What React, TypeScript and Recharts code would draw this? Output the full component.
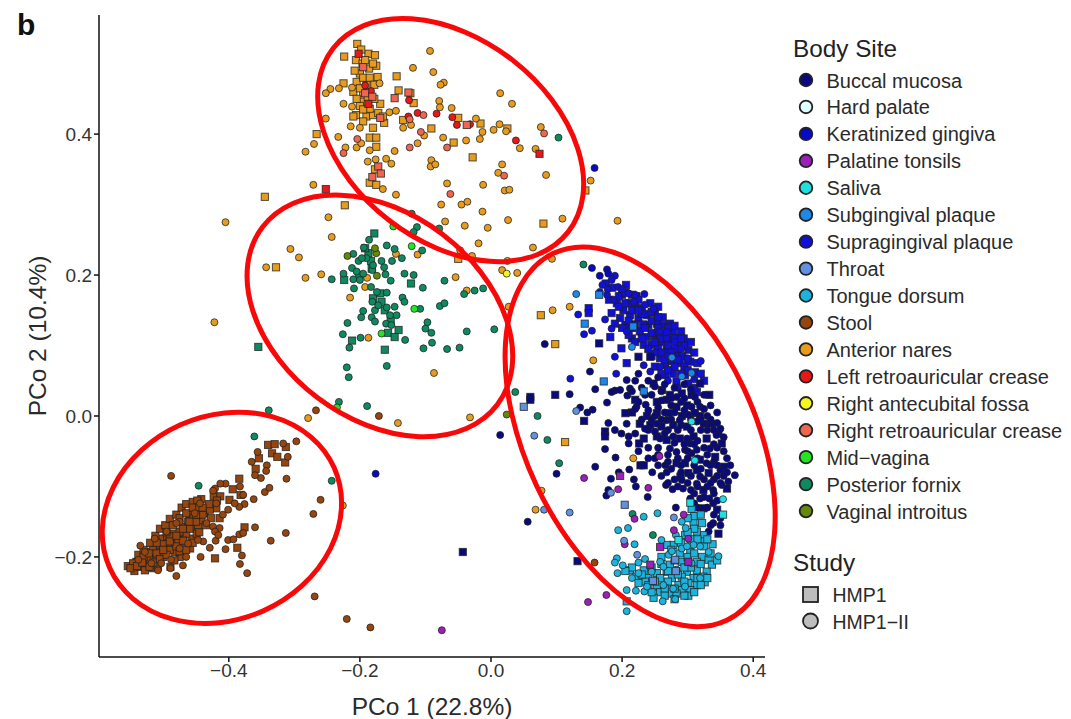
import React from 'react';
import { ScatterChart, Scatter, XAxis, YAxis, ReferenceArea } from 'recharts';

type Pt = [number, number];

const xTicks = [-0.4, -0.2, 0, 0.2, 0.4];
const yTicks = [-0.2, 0, 0.2, 0.4];

const bodySites = [
  'Buccal mucosa', 'Hard palate', 'Keratinized gingiva', 'Palatine tonsils', 'Saliva', 'Subgingival plaque',
  'Supragingival plaque', 'Throat', 'Tongue dorsum', 'Stool', 'Anterior nares', 'Left retroauricular crease',
  'Right antecubital fossa', 'Right retroauricular crease', 'Mid\u2212vagina', 'Posterior fornix', 'Vaginal introitus',
];
const siteColors = [
  '#0a0a80', '#e0ffff', '#0808c8', '#9a20b8', '#1fe0e0', '#1e88e8',
  '#1010d8', '#6490e0', '#1cb4dc', '#96450f', '#e89c1e', '#e81818',
  '#f5f520', '#ee6650', '#22e622', '#0f8a60', '#668a08',
];
const studies = ['HMP1', 'HMP1\u2212II'];

// [x1, x2, y1, y2, rotation] of the hand drawn rings, before rotating
const rings: [number, number, number, number, number][] = [
  [-0.289, 0.166, 0.535, 0.248, 38],
  [-0.394, 0.055, 0.288, -0.004, 37],
  [-0.598, -0.223, 0.0, -0.289, -24],
  [-0.082, 0.537, 0.133, -0.192, 64.7],
];

const naresSquares: Pt[] = [[-.204,.528],[-.224,.510],[-.187,.514],[-.177,.512],[-.206,.505],[-.175,.497],[-.186,.493],[-.200,.486],[-.173,.481],[-.144,.482],[-.225,.472],[-.205,.474],[-.141,.462],[-.123,.458],[-.195,.458],[-.197,.446],[-.169,.443],[-.118,.444],[-.206,.427],[-.190,.425],[-.180,.427],[-.163,.416],[-.134,.420],[-.180,.409],[-.266,.400],[-.185,.395],[-.175,.395],[-.091,.408],[-.050,.423],[-.016,.415],[.025,.408],[-.057,.388],[-.175,.382],[-.028,.367],[-.177,.350],[-.185,.331],[-.175,.328],[-.223,.299],[.080,.273],[.144,.320],[-.050,.223],[-.345,.311],[-.328,.211],[.076,.143],[.098,.102],[.113,-.037],[-.196,.500],[-.190,.470],[-.200,.440],[-.185,.436],[-.198,.520],[-.192,.505],[-.180,.500],[-.208,.490],[-.195,.480],[-.185,.480],[-.210,.460],[-.200,.465],[-.178,.470],[-.188,.452],[-.205,.450],[-.178,.450],[-.195,.435],[-.210,.425],[-.172,.430],[-.195,.418],[-.165,.425]];
const naresCircles: Pt[] = [[-.093,.518],[-.119,.494],[-.088,.488],[-.072,.473],[-.077,.470],[.014,.458],[.032,.443],[-.245,.464],[-.252,.458],[-.232,.465],[-.212,.466],[-.170,.472],[-.225,.443],[-.212,.439],[-.252,.422],[-.155,.431],[-.145,.433],[-.079,.447],[-.078,.438],[-.060,.437],[-.023,.422],[-.214,.411],[-.200,.409],[-.134,.409],[-.122,.413],[-.013,.403],[.004,.406],[.013,.414],[.023,.404],[.076,.410],[-.233,.396],[-.270,.386],[-.283,.375],[-.222,.381],[-.205,.381],[-.198,.387],[-.185,.377],[-.147,.376],[-.112,.387],[-.102,.398],[-.073,.395],[-.038,.391],[-.017,.393],[.044,.380],[.068,.379],[-.160,.365],[-.176,.364],[-.188,.361],[-.152,.358],[-.091,.363],[-.092,.354],[-.085,.357],[.017,.357],[.011,.345],[.084,.342],[.152,.334],[-.067,.330],[-.012,.328],[.021,.320],[.028,.321],[-.271,.328],[-.165,.322],[-.145,.314],[-.076,.300],[-.045,.300],[-.036,.304],[-.013,.290],[-.070,.276],[-.040,.270],[-.005,.267],[.026,.278],[.109,.280],[-.248,.282],[-.243,.254],[-.019,.245],[-.112,.229],[-.047,.235],[-.029,.227],[.064,.239],[.025,.220],[.093,.223],[.193,.277],[-.405,.275],[-.306,.237],[-.293,.225],[-.343,.211],[-.283,.196],[-.259,.201],[-.422,.133],[-.215,.168],[-.189,.196],[-.192,.183],[-.145,.230],[-.054,.197],[-.037,.178],[.017,.207],[.027,.155],[-.187,.111],[-.087,.061],[-.142,-.010],[-.032,-.002],[-.279,-.003],[-.226,-.127],[.040,.203],[.094,.150],[.120,.155],[.156,.079],[.217,-.060],[.068,-.133],[.077,-.106]];
const leftRetroSquares: Pt[] = [[-.202,.514],[.074,.372],[-.252,.322],[-.187,.443]];
const leftRetroCircles: Pt[] = [[-.183,.461],[-.125,.448],[-.112,.430],[-.083,.429],[-.059,.424],[-.052,.413],[-.032,.414],[.038,.391],[-.126,.425],[-.192,.469]];
const rightRetroSquares: Pt[] = [[-.195,.495],[-.192,.458],[-.181,.453],[-.147,.451],[-.169,.423],[-.126,.459],[-.172,.354],[-.181,.339],[-.168,.344],[-.037,.413]];
const rightRetroCircles: Pt[] = [[-.103,.427],[-.124,.421],[-.107,.403],[-.204,.393],[-.225,.373],[-.124,.381],[-.067,.381],[.081,.401],[-.062,.315],[.020,.341]];
const antecubitalCircles: Pt[] = [[.024,.202]];

const stoolSquares: Pt[] = [[-.554,-.213],[-.544,-.220],[-.541,-.207],[-.533,-.200],[-.526,-.209],[-.523,-.193],[-.516,-.216],[-.513,-.203],[-.506,-.184],[-.506,-.193],[-.498,-.174],[-.496,-.188],[-.489,-.214],[-.484,-.167],[-.484,-.181],[-.475,-.200],[-.470,-.157],[-.470,-.169],[-.470,-.185],[-.460,-.140],[-.457,-.159],[-.457,-.174],[-.459,-.188],[-.449,-.132],[-.447,-.155],[-.442,-.118],[-.437,-.138],[-.427,-.145],[-.419,-.131],[-.414,-.145],[-.423,-.114],[-.413,-.114],[-.394,-.104],[-.399,-.119],[-.384,-.089],[-.382,-.112],[-.376,-.158],[-.387,-.187],[-.421,-.202],[-.359,-.075],[-.354,-.060],[-.340,-.041],[-.330,-.040],[-.313,-.044],[-.334,-.053],[-.326,-.058],[-.314,-.066],[-.536,-.214],[-.521,-.202],[-.500,-.200],[-.493,-.181],[-.477,-.176],[-.516,-.186],[-.465,-.167],[-.449,-.167],[-.442,-.148],[-.429,-.133],[-.482,-.193],[-.528,-.219],[-.546,-.209],[-.508,-.214],[-.490,-.171],[-.462,-.150],[-.475,-.164],[-.454,-.145],[-.505,-.174],[-.521,-.214],[-.550,-.216],[-.538,-.197],[-.530,-.190],[-.520,-.180],[-.512,-.170],[-.505,-.160],[-.497,-.155],[-.490,-.146],[-.480,-.140],[-.472,-.130],[-.465,-.125],[-.455,-.122],[-.448,-.120],[-.530,-.200],[-.510,-.195],[-.500,-.182],[-.490,-.190],[-.480,-.185],[-.470,-.177],[-.460,-.160],[-.450,-.150],[-.440,-.140],[-.430,-.125],[-.418,-.120],[-.540,-.213],[-.515,-.208],[-.505,-.203],[-.495,-.197],[-.483,-.205],[-.475,-.192],[-.465,-.190],[-.455,-.180],[-.445,-.165],[-.435,-.155],[-.495,-.165],[-.485,-.155],[-.475,-.145],[-.465,-.138],[-.455,-.130],[-.445,-.130],[-.510,-.180],[-.522,-.195],[-.532,-.208],[-.500,-.190],[-.490,-.178],[-.480,-.170],[-.470,-.160],[-.460,-.150],[-.450,-.140],[-.440,-.130]];
const stoolCircles: Pt[] = [[-.535,-.184],[-.488,-.085],[-.480,-.227],[-.470,-.212],[-.489,-.216],[-.508,-.219],[-.465,-.200],[-.475,-.150],[-.480,-.152],[-.495,-.164],[-.513,-.174],[-.443,-.200],[-.439,-.178],[-.429,-.187],[-.420,-.177],[-.405,-.189],[-.401,-.176],[-.393,-.175],[-.384,-.168],[-.378,-.166],[-.360,-.158],[-.380,-.198],[-.383,-.210],[-.372,-.223],[-.336,-.177],[-.313,-.166],[-.271,-.139],[-.260,-.119],[-.312,-.089],[-.345,-.108],[-.338,-.102],[-.362,-.118],[-.376,-.125],[-.384,-.129],[-.391,-.124],[-.401,-.133],[-.409,-.140],[-.424,-.157],[-.414,-.159],[-.421,-.164],[-.416,-.169],[-.405,-.096],[-.413,-.096],[-.421,-.103],[-.424,-.106],[-.383,-.100],[-.378,-.112],[-.351,-.088],[-.360,-.084],[-.342,-.070],[-.343,-.078],[-.365,-.065],[-.356,-.051],[-.310,-.058],[-.317,-.039],[-.297,-.036],[-.269,-.256],[-.220,-.288],[-.184,-.300],[-.267,.008],[-.171,.000],[.158,-.208],[-.538,-.204],[-.528,-.193],[-.518,-.209],[-.503,-.209],[-.488,-.204],[-.475,-.188],[-.462,-.181],[-.447,-.176],[-.434,-.152],[-.419,-.124],[-.444,-.124],[-.452,-.138]];

const fornixSquares: Pt[] = [[-.178,.259],[-.187,.231],[-.183,.220],[-.224,.193],[-.201,.200],[-.167,.162],[-.180,.167],[-.169,.174],[-.162,.150],[-.153,.135],[-.157,.118],[-.141,.122],[-.147,.112],[-.212,.107],[-.162,.094],[-.355,.098],[-.122,.188],[-.192,.238],[-.182,.209]];
const fornixCircles: Pt[] = [[-.186,.250],[-.194,.239],[-.210,.230],[-.202,.220],[-.159,.242],[-.147,.237],[-.136,.224],[-.151,.220],[-.167,.220],[-.163,.211],[-.161,.201],[-.153,.192],[-.105,.235],[-.132,.202],[-.118,.200],[-.104,.182],[-.071,.192],[-.025,.178],[-.012,.181],[-.041,.173],[-.212,.210],[-.225,.202],[-.210,.194],[-.243,.194],[-.209,.181],[-.195,.202],[-.181,.207],[-.183,.183],[-.159,.175],[-.135,.168],[-.132,.162],[-.147,.155],[-.108,.152],[-.078,.156],[-.071,.160],[-.144,.143],[-.195,.149],[-.198,.140],[-.182,.140],[-.177,.134],[-.177,.150],[-.159,.154],[-.219,.132],[-.226,.116],[-.199,.111],[-.216,.097],[-.097,.133],[-.100,.124],[-.091,.118],[-.090,.104],[-.131,.108],[-.103,.096],[-.067,.095],[-.048,.097],[-.037,.120],[.005,.123],[-.220,.069],[-.217,.055],[-.159,.071],[-.232,.020],[-.189,.014],[-.339,.008],[-.121,.287],[-.113,.268],[-.118,.261],[-.079,.266],[.103,.395],[.141,.215],[.037,.034],[.071,.000],[.086,-.034],[.104,-.067],[.216,-.139],[.247,-.169],[-.361,-.029],[-.446,-.099],[-.243,-.092],[-.174,.176],[-.181,.162],[-.172,.157],[-.154,.143],[-.160,.131],[-.152,.129],[-.190,.224],[-.197,.224],[-.180,.214],[-.205,.205],[-.200,.193]];
const introitusCircles: Pt[] = [[-.219,.227],[-.175,.231],[-.174,.199],[-.177,.238],[.024,.002]];
const midVaginaCircles: Pt[] = [[-.121,.241],[-.117,.152],[-.167,.117],[-.149,.269],[-.235,.012]];

const supraSquares: Pt[] = [[.206,.186],[.192,.160],[.210,.160],[.220,.155],[.230,.153],[.243,.160],[.184,.146],[.197,.139],[.212,.143],[.225,.139],[.238,.143],[.250,.146],[.189,.131],[.205,.129],[.227,.120],[.240,.129],[.253,.131],[.263,.129],[.273,.131],[.215,.110],[.238,.112],[.250,.115],[.263,.117],[.278,.120],[.233,.101],[.245,.101],[.261,.105],[.273,.108],[.294,.110],[.286,.101],[.268,.094],[.255,.096],[.301,.094],[.284,.089],[.304,.077],[.288,.075],[.266,.072],[.258,.082],[.278,.060],[.266,.058],[.296,.058],[.314,.034],[.301,.046],[.283,.049],[.199,.096],[.207,.075],[.149,.153],[.149,.146],[.182,.112],[.200,.172],[.215,.150],[.232,.130],[.245,.118],[.258,.110],[.280,.095],[.292,.085],[.276,.078],[.295,.070],[.311,.062],[.202,.150],[.222,.170],[.175,.188],[.185,.182],[.195,.170],[.205,.175],[.215,.172],[.180,.165],[.195,.155],[.205,.160],[.225,.165],[.235,.145],[.245,.148],[.255,.155],[.262,.140],[.270,.125],[.280,.128],[.290,.120],[.295,.100],[.305,.105],[.310,.090],[.315,.075],[.320,.060],[.325,.050],[.310,.040],[.300,.065],[.290,.060],[.280,.070],[.270,.065],[.260,.060],[.250,.070],[.245,.085],[.260,.090],[.270,.100],[.280,.110],[.255,.125],[.245,.135],[.230,.145],[.220,.130],[.210,.135],[.200,.125],[.210,.115],[.220,.105],[.230,.110],[.240,.095],[.250,.105],[.290,.110],[.300,.080],[.285,.080],[.275,.090],[.265,.080],[.215,.125],[.225,.150],[.255,.140],[.268,.118],[.235,.125]];
const supraCircles: Pt[] = [[.189,.199],[.184,.193],[.194,.183],[.177,.172],[.166,.176],[.187,.165],[.234,.173],[.220,.172],[.210,.174],[.174,.137],[.184,.124],[.154,.121],[.142,.116],[.133,.144],[.207,.120],[.189,.084],[.233,.072],[.320,.078],[.121,.053],[.191,.060],[.243,.063],[.170,.186],[.178,.180],[.200,.180],[.218,.162],[.235,.158],[.248,.152],[.258,.120],[.268,.110],[.280,.105],[.250,.090],[.270,.085],[.290,.095],[.300,.082],[.310,.052],[.285,.040],[.270,.050],[.258,.070]];
const keratinizedCircles: Pt[] = [[.154,.210],[.166,.199],[.177,.208],[.179,.202],[-.176,-.082],[.158,.352]];
const buccalSquares: Pt[] = [[.225,.084],[.243,.084],[.165,.103],[.098,.030],[.060,.027],[.060,.023],[.142,-.007],[.248,.046],[.261,.037],[.273,.030],[.291,.032],[.306,.030],[.319,.046],[.333,.030],[.220,.023],[.205,.004],[.215,.005],[.253,.020],[.268,.023],[.283,.013],[.299,.015],[.311,.004],[.238,.000],[.253,.004],[.271,.004],[.291,.000],[.319,.000],[.227,-.011],[.243,-.013],[.260,-.015],[.278,-.013],[.299,-.015],[.332,-.011],[.174,-.022],[.174,-.029],[.233,-.032],[.253,-.029],[.268,-.034],[.288,-.032],[.309,-.029],[.329,-.032],[.347,-.025],[.352,-.039],[.226,-.039],[.228,-.070],[.233,-.070],[.283,-.067],[.296,-.067],[.314,-.077],[.332,-.081],[.355,-.072],[.342,-.058],[.360,-.103],[.301,-.081],[.319,-.062],[.289,-.086],[.324,-.105],[.345,-.133],[.324,-.131],[.347,-.167],[.132,-.206],[-.043,-.193]];
const buccalCircles: Pt[] = [[.174,-.047],[.190,-.059],[.159,-.072],[.100,-.082],[.183,-.089],[.195,-.080],[.211,-.076],[.218,-.090],[.221,-.100],[.246,-.080],[.268,-.080],[.266,-.070],[.240,-.060],[.267,-.098],[.277,-.104],[.293,-.103],[.291,-.091],[.314,-.096],[.339,-.105],[.352,-.098],[.362,-.093],[.372,-.084],[.304,-.117],[.319,-.117],[.333,-.117],[.310,-.124],[.339,-.124],[.239,-.115],[.282,-.130],[.176,-.113],[.179,-.105],[.056,-.150],[.350,-.155],[.339,-.152],[.332,-.164],[.319,-.086],[.350,-.077],[.329,-.067],[.306,-.053],[.273,-.046],[.283,-.051],[.296,-.048],[.314,-.048],[.334,-.046],[.258,-.032],[.278,-.029],[.299,-.032],[.344,-.027],[.151,.063],[.159,.038],[.177,.019],[.120,.031],[.136,.012],[.155,.009],[.147,.005],[.179,-.010],[.189,-.020],[.199,-.025],[.207,.051],[.220,.050],[.212,.039],[.189,.036],[.184,.034],[.197,.037],[.208,.029],[.236,.016],[.222,.013],[.210,-.029],[.210,-.039],[.082,.102],[.207,-.011],[.268,-.006],[.339,-.011],[.304,-.039],[.324,-.011],[.253,-.011],[.288,-.006],[.314,-.008],[.283,.027],[.250,.042],[.306,.013],[.319,.013],[.311,.027],[.014,-.027],[.220,.010],[.235,.030],[.250,.000],[.260,.022],[.275,.015],[.290,.020],[.300,.002],[.315,.020],[.330,.000],[.345,-.010],[.240,-.020],[.255,-.045],[.270,-.020],[.285,-.020],[.300,-.050],[.315,-.035],[.330,-.020],[.345,-.045],[.360,-.060],[.250,-.060],[.270,-.065],[.290,-.070],[.310,-.070],[.325,-.090],[.340,-.065],[.355,-.085],[.300,-.095],[.280,-.090],[.260,-.085],[.310,-.110],[.330,-.100],[.340,-.090],[.225,.060],[.240,.050],[.255,.055],[.265,.045],[.280,.040],[.295,.045],[.310,.005],[.325,.030],[.335,.015],[.345,.005],[.230,.040],[.245,.030],[.260,.035],[.275,.025],[.295,.025],[.305,.038],[.325,.010],[.215,.035],[.225,.020],[.240,.008],[.255,.012],[.265,.005],[.280,.005],[.295,.008],[.305,-.005],[.320,-.005],[.335,-.005],[.350,-.018],[.230,-.005],[.245,-.005],[.260,-.005],[.275,-.005],[.290,-.013],[.305,-.020],[.320,-.020],[.340,-.020],[.355,-.030],[.220,-.025],[.235,-.018],[.250,-.022],[.265,-.025],[.280,-.038],[.295,-.040],[.310,-.040],[.325,-.045],[.340,-.040],[.355,-.050],[.365,-.070],[.225,-.050],[.240,-.045],[.255,-.055],[.270,-.055],[.285,-.060],[.300,-.060],[.315,-.060],[.330,-.055],[.345,-.070],[.360,-.080],[.255,-.070],[.275,-.075],[.290,-.080],[.305,-.085],[.320,-.075],[.335,-.070],[.345,-.085],[.350,-.095],[.335,-.095],[.315,-.100],[.325,-.115],[.340,-.110],[.345,-.120],[.330,-.130],[.340,-.140],[.350,-.145],[.335,-.155],[.315,-.130],[.305,-.105],[.285,-.100],[.270,-.095]];
const tonsilSquares: Pt[] = [[.197,-.085],[.258,-.186],[.243,-.211],[.301,-.207]];
const tonsilCircles: Pt[] = [[.142,-.088],[.194,-.104],[.240,-.102],[.257,-.057],[.219,-.146],[.204,-.182],[.176,-.254],[.148,-.264],[.294,-.140],[.279,-.162],[.301,-.174],[-.075,-.304]];
const throatSquares: Pt[] = [[.204,-.126],[.050,.013],[.281,-.204],[.282,-.220],[.247,-.234]];
const throatCircles: Pt[] = [[.066,-.028],[.081,-.133],[.120,-.137],[.183,-.109],[.279,-.144],[.223,-.197],[.203,-.177],[.130,.007]];
const subgingSquares: Pt[] = [[.165,.172],[.143,.131],[.172,.049],[.233,.035],[.217,.127]];
const subgingCircles: Pt[] = [[.130,.173],[.306,.061],[.276,.083],[.291,.056],[.215,.098]];
const salivaSquares: Pt[] = [[.304,-.123],[.354,-.140],[.286,-.176]];
const salivaCircles: Pt[] = [[.311,-.063],[.354,-.118],[.306,-.008]];
const tongueSquares: Pt[] = [[.306,-.132],[.309,-.152],[.322,-.152],[.324,-.169],[.314,-.164],[.296,-.169],[.338,-.182],[.324,-.178],[.278,-.183],[.268,-.183],[.288,-.195],[.304,-.193],[.322,-.200],[.332,-.204],[.314,-.207],[.291,-.207],[.273,-.211],[.337,-.211],[.212,-.219],[.233,-.219],[.253,-.223],[.268,-.221],[.299,-.221],[.314,-.219],[.329,-.221],[.222,-.228],[.240,-.230],[.258,-.230],[.276,-.230],[.291,-.228],[.309,-.230],[.324,-.228],[.235,-.235],[.253,-.242],[.268,-.240],[.286,-.240],[.301,-.237],[.314,-.240],[.326,-.236],[.258,-.250],[.273,-.252],[.291,-.247],[.304,-.247],[.248,-.258],[.301,-.255],[.283,-.252],[.207,-.263],[.230,-.225],[.245,-.215],[.260,-.210],[.270,-.220],[.280,-.205],[.300,-.200],[.310,-.195],[.325,-.185],[.335,-.195],[.345,-.205],[.320,-.210],[.305,-.215],[.285,-.225],[.270,-.235],[.250,-.235],[.265,-.245],[.280,-.245],[.295,-.235],[.315,-.230],[.330,-.230],[.320,-.240],[.310,-.250],[.295,-.255],[.280,-.260],[.265,-.255],[.245,-.250],[.240,-.240],[.260,-.200],[.275,-.190],[.290,-.180],[.305,-.175],[.315,-.175],[.330,-.175],[.310,-.160],[.300,-.165],[.295,-.215],[.215,-.215],[.205,-.220],[.225,-.237],[.310,-.142],[.320,-.140],[.300,-.145]];
const tongueCircles: Pt[] = [[.233,-.143],[.254,-.138],[.291,-.150],[.194,-.162],[.209,-.159],[.219,-.182],[.260,-.176],[.192,-.202],[.189,-.208],[.201,-.212],[.193,-.223],[.207,-.247],[.207,-.277],[.262,-.263],[.281,-.260],[.347,-.199],[.235,-.203],[.225,-.208],[.221,-.248],[.234,-.249],[.297,-.159],[.282,-.169],[.271,-.197],[.258,-.207],[.291,-.188],[.245,-.221],[.263,-.214],[.283,-.218],[.306,-.209],[.319,-.185],[.332,-.193],[.309,-.183],[.238,-.242],[.225,-.223],[.215,-.230],[.263,-.240],[.278,-.245],[.296,-.242],[.319,-.230],[.299,-.185],[.276,-.192]];

// site index, squares (HMP1), circles (HMP1-II); later rows paint on top
const layers: [number, Pt[], Pt[]][] = [
  [10, naresSquares, naresCircles],
  [11, leftRetroSquares, leftRetroCircles],
  [13, rightRetroSquares, rightRetroCircles],
  [12, [], antecubitalCircles],
  [9, stoolSquares, stoolCircles],
  [15, fornixSquares, fornixCircles],
  [16, [], introitusCircles],
  [14, [], midVaginaCircles],
  [6, supraSquares, supraCircles],
  [2, [], keratinizedCircles],
  [0, buccalSquares, buccalCircles],
  [8, tongueSquares, tongueCircles],
  [3, tonsilSquares, tonsilCircles],
  [7, throatSquares, throatCircles],
  [5, subgingSquares, subgingCircles],
  [4, salivaSquares, salivaCircles],
];

const EDGE = 'rgba(30,30,30,0.75)';
const toRows = (pts: Pt[]) => pts.map(([x, y]) => ({ x, y }));
const minus = (v: number) => (v < 0 ? '\u2212' : '') + Math.abs(v).toFixed(1);

const squareDot = (fill: string) => (p: any) => (
  <rect x={p.cx - 3.6} y={p.cy - 3.6} width={7.2} height={7.2} fill={fill} stroke={EDGE} strokeWidth={1} />
);
const circleDot = (fill: string) => (p: any) => (
  <circle cx={p.cx} cy={p.cy} r={3.5} fill={fill} stroke={EDGE} strokeWidth={1} />
);
const ringShape = (angle: number) => (p: any) => {
  const cx = p.x + p.width / 2;
  const cy = p.y + p.height / 2;
  return (
    <ellipse cx={cx} cy={cy} rx={p.width / 2} ry={p.height / 2} fill="none" stroke="#f80808" strokeWidth={5}
      transform={`rotate(${angle} ${cx} ${cy})`} />
  );
};

const FONT = '"Liberation Sans", Arial, sans-serif';

const LegendBox: React.FC = () => (
  <svg width={300} height={719} style={{ position: 'absolute', left: 771, top: 0, fontFamily: FONT }}>
    <text x={22} y={57} fontSize={24.3} fill="#222">Body Site</text>
    {bodySites.map((s, i) => (
      <g key={s}>
        <circle cx={35} cy={80 + i * 26.94} r={6.3} fill={siteColors[i]} stroke="#222" strokeWidth={1.8} />
        <text x={55.5} y={87.5 + i * 26.94} fontSize={20} fill="#2a2a2a">{s}</text>
      </g>
    ))}
    <text x={22} y={571} fontSize={24.3} fill="#222">Study</text>
    <rect x={32} y={587} width={15} height={15} fill="#bdbdbd" stroke="#222" strokeWidth={1.8} />
    <circle cx={39.5} cy={621} r={7.5} fill="#bdbdbd" stroke="#222" strokeWidth={1.8} />
    {studies.map((s, i) => (
      <text key={s} x={61.5} y={601.5 + i * 27} fontSize={19.5} fill="#2a2a2a">{s}</text>
    ))}
  </svg>
);

export default function App() {
  return (
    <div style={{ position: 'absolute', left: 0, top: 0, width: 1071, height: 719, background: '#fff', overflow: 'hidden' }}>
      <ScatterChart width={1071} height={719} margin={{ top: 15, right: 306, bottom: 0, left: 0 }} style={{ fontFamily: FONT }}>
        <XAxis
          type="number" dataKey="x" domain={[-0.598, 0.418]} ticks={xTicks} tickFormatter={minus} height={62}
          stroke="#111" strokeWidth={1.5} tickSize={5} tick={{ fontSize: 19, fill: '#333' }}
          label={{ value: 'PCo 1 (22.8%)', position: 'insideBottom', offset: 4, fontSize: 24.5, fill: '#2a2a2a' }}
          allowDataOverflow
        />
        <YAxis
          type="number" dataKey="y" domain={[-0.342, 0.569]} ticks={yTicks} tickFormatter={minus} width={99}
          stroke="#111" strokeWidth={1.5} tickSize={5} tick={{ fontSize: 19, fill: '#333' }}
          label={{ value: 'PCo 2 (10.4%)', angle: -90, position: 'insideLeft', offset: 37, fontSize: 24.5, fill: '#2a2a2a', style: { textAnchor: 'middle' } }}
          allowDataOverflow
        />
        {layers.map(([site, squares, circles]) => [
          <Scatter key={`${site}-s`} name={`${bodySites[site]} ${studies[0]}`} data={toRows(squares)} isAnimationActive={false} shape={squareDot(siteColors[site])} />,
          <Scatter key={`${site}-c`} name={`${bodySites[site]} ${studies[1]}`} data={toRows(circles)} isAnimationActive={false} shape={circleDot(siteColors[site])} />,
        ])}
        {rings.map(([x1, x2, y1, y2, angle]) => (
          <ReferenceArea key={x1} x1={x1} x2={x2} y1={y1} y2={y2} ifOverflow="visible" zIndex={2000} shape={ringShape(angle)} />
        ))}
      </ScatterChart>
      <LegendBox />
      <div style={{ position: 'absolute', left: 17, top: 10, fontFamily: FONT, fontSize: 30, lineHeight: 1, fontWeight: 700, color: '#111' }}>b</div>
    </div>
  );
}
